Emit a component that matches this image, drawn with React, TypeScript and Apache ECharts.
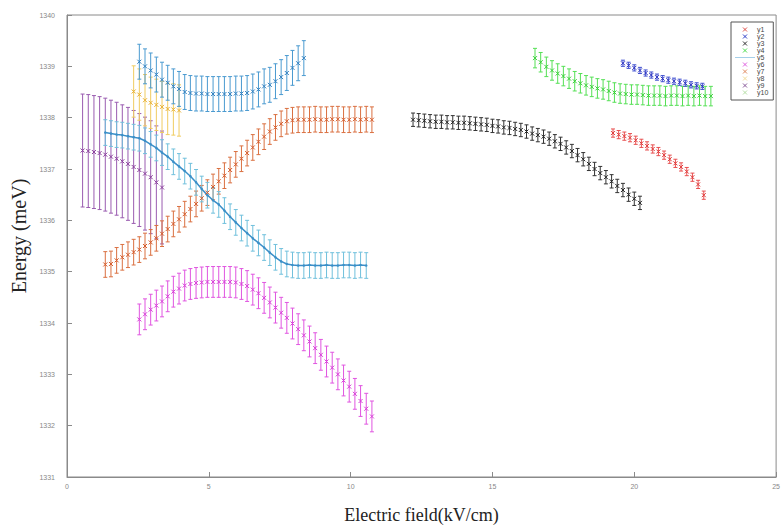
import React, { useEffect, useRef } from "react";
import * as echarts from "echarts";

// ---- data ----
const y1X = [19.25, 19.45, 19.65, 19.85, 20.05, 20.25, 20.45, 20.65, 20.85, 21.05, 21.25, 21.45, 21.65, 21.85, 22.05, 22.25, 22.45];
const y1Y = [1337.7, 1337.67, 1337.64, 1337.61, 1337.56, 1337.5, 1337.45, 1337.39, 1337.34, 1337.27, 1337.19, 1337.11, 1337.04, 1336.95, 1336.84, 1336.7, 1336.49];
const y1Err = 0.08;

const y2X = [19.6, 19.8, 20.0, 20.2, 20.4, 20.6, 20.8, 21.0, 21.2, 21.4, 21.6, 21.8, 22.0, 22.2, 22.4];
const y2Y = [1339.06, 1339.02, 1338.97, 1338.92, 1338.87, 1338.83, 1338.79, 1338.76, 1338.73, 1338.71, 1338.69, 1338.67, 1338.64, 1338.62, 1338.61];
const y2Err = 0.06;

const y3X = [12.2, 12.4, 12.6, 12.8, 13.0, 13.2, 13.4, 13.6, 13.8, 14.0, 14.2, 14.4, 14.6, 14.8, 15.0, 15.2, 15.4, 15.6, 15.8, 16.0, 16.2, 16.4, 16.6, 16.8, 17.0, 17.2, 17.4, 17.6, 17.8, 18.0, 18.2, 18.4, 18.6, 18.8, 19.0, 19.2, 19.4, 19.6, 19.8, 20.0, 20.2];
const y3Y = [1337.96, 1337.95, 1337.94, 1337.93, 1337.92, 1337.92, 1337.91, 1337.91, 1337.9, 1337.9, 1337.89, 1337.88, 1337.87, 1337.86, 1337.84, 1337.83, 1337.81, 1337.8, 1337.78, 1337.76, 1337.73, 1337.69, 1337.66, 1337.63, 1337.59, 1337.54, 1337.49, 1337.42, 1337.35, 1337.27, 1337.19, 1337.1, 1337.0, 1336.92, 1336.84, 1336.76, 1336.67, 1336.59, 1336.5, 1336.42, 1336.34];
const y3Err = 0.13;

const y4X = [16.5, 16.7, 16.9, 17.1, 17.3, 17.5, 17.7, 17.9, 18.1, 18.3, 18.5, 18.7, 18.9, 19.1, 19.3, 19.5, 19.7, 19.9, 20.1, 20.3, 20.5, 20.7, 20.9, 21.1, 21.3, 21.5, 21.7, 21.9, 22.1, 22.3, 22.5, 22.7];
const y4Y = [1339.16, 1339.08, 1338.99, 1338.92, 1338.86, 1338.81, 1338.76, 1338.71, 1338.67, 1338.63, 1338.6, 1338.57, 1338.55, 1338.52, 1338.49, 1338.47, 1338.46, 1338.45, 1338.45, 1338.44, 1338.43, 1338.43, 1338.43, 1338.42, 1338.43, 1338.43, 1338.42, 1338.43, 1338.42, 1338.43, 1338.42, 1338.42];
const y4Err = 0.19;

const y5X = [1.35, 1.55, 1.75, 1.95, 2.15, 2.35, 2.55, 2.75, 2.95, 3.15, 3.35, 3.55, 3.75, 3.95, 4.15, 4.35, 4.55, 4.75, 4.95, 5.15, 5.35, 5.55, 5.75, 5.95, 6.15, 6.35, 6.55, 6.75, 6.95, 7.15, 7.35, 7.55, 7.75, 7.95, 8.15, 8.35, 8.55, 8.75, 8.95, 9.15, 9.35, 9.55, 9.75, 9.95, 10.15, 10.35, 10.55];
const y5Y = [1337.71, 1337.69, 1337.67, 1337.66, 1337.64, 1337.62, 1337.6, 1337.55, 1337.48, 1337.41, 1337.32, 1337.24, 1337.14, 1337.05, 1336.96, 1336.86, 1336.74, 1336.61, 1336.49, 1336.39, 1336.31, 1336.19, 1336.07, 1335.96, 1335.85, 1335.75, 1335.65, 1335.56, 1335.47, 1335.37, 1335.28, 1335.2, 1335.15, 1335.13, 1335.12, 1335.12, 1335.13, 1335.12, 1335.12, 1335.13, 1335.12, 1335.12, 1335.13, 1335.13, 1335.12, 1335.13, 1335.12];
const y5Err = 0.25;

const y6X = [2.55, 2.75, 2.95, 3.15, 3.35, 3.55, 3.75, 3.95, 4.15, 4.35, 4.55, 4.75, 4.95, 5.15, 5.35, 5.55, 5.75, 5.95, 6.15, 6.35, 6.55, 6.75, 6.95, 7.15, 7.35, 7.55, 7.75, 7.95, 8.15, 8.35, 8.55, 8.75, 8.95, 9.15, 9.35, 9.55, 9.75, 9.95, 10.15, 10.35, 10.55, 10.75];
const y6Y = [1334.07, 1334.17, 1334.26, 1334.34, 1334.42, 1334.52, 1334.61, 1334.67, 1334.73, 1334.76, 1334.78, 1334.79, 1334.8, 1334.8, 1334.8, 1334.8, 1334.8, 1334.79, 1334.76, 1334.72, 1334.65, 1334.58, 1334.49, 1334.4, 1334.3, 1334.2, 1334.1, 1333.99, 1333.88, 1333.76, 1333.64, 1333.51, 1333.38, 1333.25, 1333.13, 1333.0, 1332.88, 1332.76, 1332.62, 1332.48, 1332.33, 1332.18];
const y6Err = 0.3;

const y7X = [1.35, 1.55, 1.75, 1.95, 2.15, 2.35, 2.55, 2.75, 2.95, 3.15, 3.35, 3.55, 3.75, 3.95, 4.15, 4.35, 4.55, 4.75, 4.95, 5.15, 5.35, 5.55, 5.75, 5.95, 6.15, 6.35, 6.55, 6.75, 6.95, 7.15, 7.35, 7.55, 7.75, 7.95, 8.15, 8.35, 8.55, 8.75, 8.95, 9.15, 9.35, 9.55, 9.75, 9.95, 10.15, 10.35, 10.55, 10.75];
const y7Y = [1335.14, 1335.15, 1335.22, 1335.28, 1335.33, 1335.38, 1335.43, 1335.5, 1335.57, 1335.65, 1335.74, 1335.83, 1335.93, 1336.02, 1336.12, 1336.22, 1336.32, 1336.43, 1336.54, 1336.65, 1336.76, 1336.87, 1336.98, 1337.09, 1337.2, 1337.31, 1337.42, 1337.53, 1337.63, 1337.73, 1337.81, 1337.88, 1337.93, 1337.95, 1337.96, 1337.96, 1337.96, 1337.97, 1337.96, 1337.96, 1337.97, 1337.97, 1337.96, 1337.96, 1337.97, 1337.96, 1337.97, 1337.96];
const y7Err = 0.25;

const y8X = [2.35, 2.55, 2.75, 2.95, 3.15, 3.35, 3.55, 3.75, 3.95];
const y8Y = [1338.51, 1338.45, 1338.34, 1338.29, 1338.25, 1338.21, 1338.17, 1338.16, 1338.14];
const y8Err = 0.5;

const y9X = [0.55, 0.75, 0.95, 1.15, 1.35, 1.55, 1.75, 1.95, 2.15, 2.35, 2.55, 2.75, 2.95, 3.15, 3.35];
const y9Y = [1337.36, 1337.35, 1337.33, 1337.31, 1337.28, 1337.24, 1337.2, 1337.15, 1337.1, 1337.04, 1336.98, 1336.91, 1336.84, 1336.74, 1336.64];
const y9Err = 1.1;

const y10X = [2.55, 2.75, 2.95, 3.15, 3.35, 3.55, 3.75, 3.95, 4.15, 4.35, 4.55, 4.75, 4.95, 5.15, 5.35, 5.55, 5.75, 5.95, 6.15, 6.35, 6.55, 6.75, 6.95, 7.15, 7.35, 7.55, 7.75, 7.95, 8.15, 8.35];
const y10Y = [1339.09, 1339.0, 1338.92, 1338.84, 1338.74, 1338.68, 1338.61, 1338.56, 1338.5, 1338.48, 1338.47, 1338.47, 1338.46, 1338.46, 1338.46, 1338.46, 1338.46, 1338.47, 1338.47, 1338.48, 1338.51, 1338.55, 1338.61, 1338.64, 1338.71, 1338.79, 1338.87, 1338.97, 1339.06, 1339.16];
const y10Err = 0.34;

const seriesNames = ["y1", "y2", "y3", "y4", "y5", "y6", "y7", "y8", "y9", "y10"];
const legendColors = ["#e0504a", "#3040c8", "#333333", "#50dd50", "#4a9fd2", "#e060e0", "#e08a60", "#f3dc9a", "#8a5a9a", "#b5dfa5"];

const X_MIN = 0, X_MAX = 25, X_STEP = 5;
const Y_MIN = 1331, Y_MAX = 1340, Y_STEP = 1;

const X_PATH = "path://M0,0L10,10M10,0L0,10";

export default function App() {
  const ref = useRef<HTMLDivElement>(null);
  useEffect(() => {
    if (!ref.current) return;
    const chart = echarts.init(ref.current, null, { renderer: "svg" });

    const sets = [
      { name: "y9", xs: y9X, ys: y9Y, err: y9Err, mark: "#8a3d9c", bar: "#9a5cb0", line: false },
      { name: "y7", xs: y7X, ys: y7Y, err: y7Err, mark: "#d55a2a", bar: "#da7040", line: false },
      { name: "y5", xs: y5X, ys: y5Y, err: y5Err, mark: "#3a8fc8", bar: "#70c0dc", line: true },
      { name: "y6", xs: y6X, ys: y6Y, err: y6Err, mark: "#d83ed8", bar: "#e055e0", line: false },
      { name: "y8", xs: y8X, ys: y8Y, err: y8Err, mark: "#e8b030", bar: "#f0cc60", line: false },
      { name: "y10", xs: y10X, ys: y10Y, err: y10Err, mark: "#2f7fc0", bar: "#4a9ad0", line: false },
      { name: "y3", xs: y3X, ys: y3Y, err: y3Err, mark: "#222222", bar: "#333333", line: false },
      { name: "y4", xs: y4X, ys: y4Y, err: y4Err, mark: "#36d036", bar: "#55e055", line: false },
      { name: "y2", xs: y2X, ys: y2Y, err: y2Err, mark: "#2a30c0", bar: "#4050d0", line: false },
      { name: "y1", xs: y1X, ys: y1Y, err: y1Err, mark: "#e03a3a", bar: "#e85050", line: false },
    ];

    const series: any[] = [];
    sets.forEach((s) => {
      const barColor = s.bar;
      series.push({
        type: "custom",
        name: s.name + " err",
        silent: true,
        data: s.xs.map((x, i) => [x, s.ys[i] - s.err, s.ys[i] + s.err]),
        encode: { x: 0, y: [1, 2] },
        renderItem: (params: any, api: any) => {
          const x = api.value(0);
          const lo = api.coord([x, api.value(1)]);
          const hi = api.coord([x, api.value(2)]);
          const w = 2;
          const st = { stroke: barColor, lineWidth: 1, fill: "none" };
          return {
            type: "group",
            children: [
              { type: "line", shape: { x1: lo[0], y1: lo[1], x2: hi[0], y2: hi[1] }, style: st },
              { type: "line", shape: { x1: lo[0] - w, y1: lo[1], x2: lo[0] + w, y2: lo[1] }, style: st },
              { type: "line", shape: { x1: hi[0] - w, y1: hi[1], x2: hi[0] + w, y2: hi[1] }, style: st },
            ],
          };
        },
        z: 2,
      });
      if (s.line) {
        series.push({
          type: "line",
          name: s.name,
          data: s.xs.map((x, i) => [x, s.ys[i]]),
          symbol: "circle",
          symbolSize: 2.5,
          showSymbol: true,
          lineStyle: { color: s.mark, width: 1.5 },
          itemStyle: { color: s.mark },
          z: 3,
        });
      } else {
        series.push({
          type: "scatter",
          name: s.name,
          data: s.xs.map((x, i) => [x, s.ys[i]]),
          symbol: X_PATH,
          symbolSize: 4,
          symbolKeepAspect: true,
          itemStyle: { color: s.mark, borderColor: s.mark, borderWidth: 1, opacity: 1 },
          z: 3,
        });
      }
    });

    const legendData = seriesNames.map((n, i) =>
      n === "y5"
        ? { name: n, icon: "path://M0,4.5L40,4.5L40,5.5L0,5.5Z", itemStyle: { color: legendColors[i] } }
        : { name: n, icon: X_PATH, itemStyle: { color: legendColors[i], borderColor: legendColors[i], borderWidth: 1 } }
    );

    chart.setOption({
      animation: false,
      backgroundColor: "#ffffff",
      grid: {
        left: 67, right: 4, top: 15, bottom: 50,
        show: true, borderColor: "#8a8a8a", borderWidth: 1, backgroundColor: "transparent",
      },
      legend: {
        orient: "vertical",
        left: 731,
        top: 22,
        padding: [4, 5, 4, 4],
        itemWidth: 20,
        itemHeight: 4,
        itemGap: 0,
        borderColor: "#555555",
        borderWidth: 1,
        backgroundColor: "#ffffff",
        symbolKeepAspect: true,
        textStyle: { fontSize: 7, color: "#444", lineHeight: 7, padding: [0, 0, 0, -3], fontFamily: "Liberation Sans, Arial, sans-serif" },
        data: legendData,
        selectedMode: false,
      },
      xAxis: {
        type: "value",
        min: X_MIN, max: X_MAX, interval: X_STEP,
        name: "Electric field(kV/cm)",
        nameLocation: "middle",
        nameGap: 29,
        nameTextStyle: { fontFamily: "Liberation Serif, Times New Roman, serif", fontSize: 18, color: "#222" },
        axisLine: { lineStyle: { color: "#8a8a8a" } },
        axisTick: { inside: true, length: 5, lineStyle: { color: "#8a8a8a" } },
        axisLabel: { fontSize: 7, color: "#888", margin: 6, fontFamily: "Liberation Sans, Arial, sans-serif", formatter: (v: number) => String(v) },
        splitLine: { show: false },
      },
      yAxis: {
        type: "value",
        min: Y_MIN, max: Y_MAX, interval: Y_STEP,
        name: "Energy (meV)",
        nameLocation: "middle",
        nameGap: 31,
        nameTextStyle: { fontFamily: "Liberation Serif, Times New Roman, serif", fontSize: 20, color: "#222", padding: [0, 0, 0, 20] },
        axisLine: { lineStyle: { color: "#8a8a8a" } },
        axisTick: { inside: true, length: 5, lineStyle: { color: "#8a8a8a" } },
        axisLabel: { fontSize: 7, color: "#888", margin: 12, fontFamily: "Liberation Sans, Arial, sans-serif", formatter: (v: number) => String(v) },
        splitLine: { show: false },
      },
      series,
    });
    return () => chart.dispose();
  }, []);
  return <div ref={ref} style={{ width: 783, height: 529, position: "absolute", left: 0, top: 0 }} />;
}
